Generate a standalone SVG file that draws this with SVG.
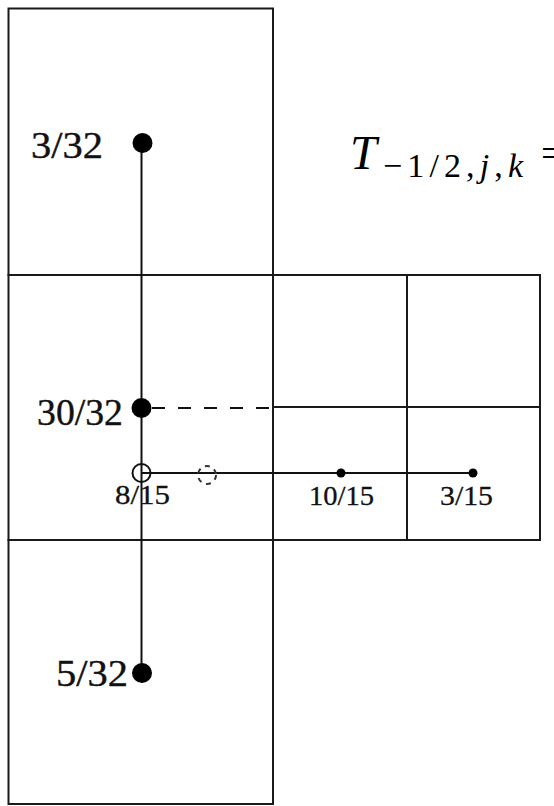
<svg xmlns="http://www.w3.org/2000/svg" width="554" height="806" viewBox="0 0 554 806">
<style>
.cell{fill:none;stroke:#1a1a1a;stroke-width:2}
.conn{fill:none;stroke:#111;stroke-width:2}
.dash{stroke-dasharray:13 13}
.big{font-family:"Liberation Serif","Times New Roman",serif;font-size:38px;fill:#111;stroke:#111;stroke-width:0.4}
.small{font-family:"Liberation Serif","Times New Roman",serif;font-size:27px;fill:#111;stroke:#111;stroke-width:0.3}
.math{font-family:"Liberation Serif","Times New Roman",serif;fill:#000}
</style>
<rect width="554" height="806" fill="#fff"/>
<g id="grid">
<rect class="cell" x="8.5" y="8.5" width="264.5" height="266.5"/>
<rect class="cell" x="8.5" y="275" width="264.5" height="265"/>
<rect class="cell" x="273" y="275" width="134" height="265"/>
<rect class="cell" x="407" y="275" width="133" height="265"/>
<line class="cell" x1="273" y1="407" x2="540" y2="407"/>
<rect class="cell" x="8.5" y="540" width="264.5" height="264"/>
</g>
<g id="connectors">
<line class="conn" x1="141.5" y1="143" x2="141.5" y2="673"/>
<line class="conn dash" x1="152" y1="408" x2="273" y2="408"/>
<line class="conn" x1="141.5" y1="473" x2="473" y2="473"/>
</g>
<g id="p-3-32">
<circle cx="142.5" cy="143" r="10" fill="#000"/>
<text class="big" x="31" y="158" textLength="72" lengthAdjust="spacingAndGlyphs">3/32</text>
</g>
<g id="p-30-32">
<circle cx="141.5" cy="408" r="10" fill="#000"/>
<text class="big" x="37" y="425" textLength="86" lengthAdjust="spacingAndGlyphs">30/32</text>
</g>
<g id="p-5-32">
<circle cx="142" cy="673" r="10" fill="#000"/>
<text class="big" x="56" y="686" textLength="72" lengthAdjust="spacingAndGlyphs">5/32</text>
</g>
<g id="p-8-15">
<circle cx="141.5" cy="473" r="9" fill="none" stroke="#111" stroke-width="2"/>
<text class="small" x="115" y="504" textLength="55" lengthAdjust="spacingAndGlyphs">8/15</text>
</g>
<g id="p-ghost">
<circle cx="207" cy="475" r="9" fill="none" stroke="#333" stroke-width="2" stroke-dasharray="5 5"/>
</g>
<g id="p-10-15">
<circle cx="341" cy="473" r="4.5" fill="#000"/>
<text class="small" x="309" y="505" textLength="65" lengthAdjust="spacingAndGlyphs">10/15</text>
</g>
<g id="p-3-15">
<circle cx="473" cy="473" r="4.5" fill="#000"/>
<text class="small" x="440" y="505" textLength="53" lengthAdjust="spacingAndGlyphs">3/15</text>
</g>
<g id="formula">
<text class="math" x="350" y="169" font-size="48" font-style="italic">T</text>
<text class="math" x="383" y="177" font-size="34" textLength="140" lengthAdjust="spacing">−1/2,<tspan font-style="italic">j</tspan>,<tspan font-style="italic">k</tspan></text>
<text class="math" x="541" y="167" font-size="40">=</text>
</g>
</svg>
